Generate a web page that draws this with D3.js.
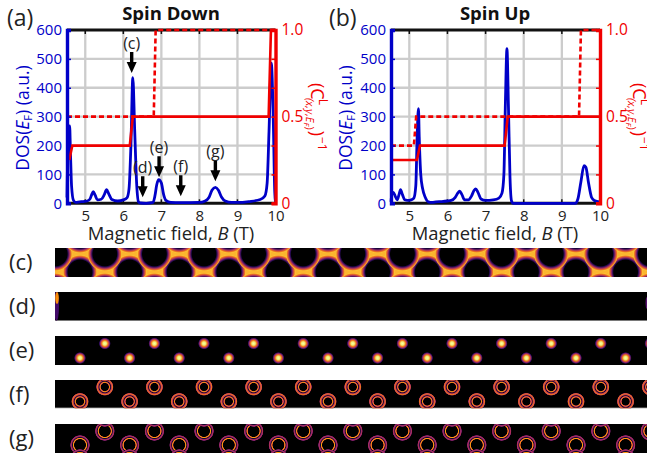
<!DOCTYPE html>
<html>
<head>
<meta charset="utf-8">
<script src="https://cdn.jsdelivr.net/npm/d3@7"></script>
<style>
  html, body { margin: 0; padding: 0; background: #fff; overflow: hidden; }
  svg { display: block; }
  text { font-family: "Open Sans", "Noto Sans", sans-serif; }
</style>
</head>
<body>
<svg width="647" height="453"></svg>
<script>
// DOS curves: [B, DOS]
const dosDown = [[4.52,20],[4.54,200],[4.56,268],[4.575,190],[4.59,268],[4.61,180],[4.64,60],[4.69,10],[4.75,3],[4.85,5],[4.95,6],[5.05,8],[5.12,14],[5.17,30],[5.21,40],[5.26,28],[5.32,12],[5.42,14],[5.5,30],[5.56,47],[5.62,32],[5.7,13],[5.85,8],[6.0,12],[6.1,20],[6.15,50],[6.2,200],[6.25,435],[6.3,250],[6.35,70],[6.4,5],[6.45,1],[6.6,0],[6.78,3],[6.83,25],[6.88,65],[6.93,82],[7,70],[7.06,30],[7.12,10],[7.25,3],[7.5,2],[8,3],[8.15,8],[8.25,20],[8.33,45],[8.42,55],[8.5,45],[8.58,22],[8.68,8],[8.85,3],[9,3],[9.3,6],[9.6,13],[9.72,25],[9.78,70],[9.83,250],[9.89,485],[9.94,300],[9.98,40],[10,5]];
const dosUp = [[4.52,5],[4.54,30],[4.58,38],[4.63,25],[4.68,12],[4.73,30],[4.77,47],[4.82,30],[4.88,12],[4.95,10],[5.05,12],[5.12,18],[5.17,60],[5.21,250],[5.24,328],[5.26,230],[5.3,100],[5.35,50],[5.42,20],[5.5,5],[5.6,3],[5.7,5],[5.85,6],[6.0,8],[6.1,10],[6.2,20],[6.27,35],[6.32,42],[6.38,30],[6.45,12],[6.55,12],[6.63,25],[6.7,45],[6.74,50],[6.8,38],[6.88,15],[7.0,10],[7.2,12],[7.35,18],[7.43,35],[7.48,100],[7.52,350],[7.56,535],[7.6,330],[7.64,90],[7.68,8],[7.72,0],[8,0],[9,0],[9.35,0],[9.42,15],[9.5,75],[9.58,130],[9.63,125],[9.7,70],[9.78,20],[9.85,10],[10,5]];

// inverse Chern steps: [B, value]
const solidDown = [[4.58,0.25],[4.66,0.333],[6.17,0.333],[6.25,0.5],[9.82,0.5],[9.88,1],[10,1]];
const dashDown = [[4.52,0.5],[6.8,0.5],[6.85,1],[10,1]];
const solidUp = [[4.52,0.25],[5.2,0.25],[5.28,0.333],[7.5,0.333],[7.58,0.5],[10,0.5]];
const dashUp = [[4.52,0.333],[5.12,0.333],[5.18,0.5],[9.45,0.5],[9.5,1],[10,1]];

// arrows in panel (a): label, B at the tip, DOS at the tip
const arrowLabels = ["(c)", "(d)", "(e)", "(f)", "(g)"];
const arrowB = [6.22, 6.51, 6.94, 7.51, 8.42];
const arrowDos = [451, 21, 90, 24, 76];

const bTicks = [5, 6, 7, 8, 9, 10];
const dosTicks = [0, 100, 200, 300, 400, 500, 600];
const chernTicks = [0, 1/6, 1/3, 0.5, 2/3, 5/6, 1];
const chernLabels = ["0", "", "", "0.5", "", "", "1.0"];

// lattice of the LDOS maps, in half periods along x
const latticeCols = [-3,-2,-1,0,1,2,3,4,5,6,7,8,9,10,11,12,13,14,15,16,17,18,19,20,21,22,23,24];
const mapNames = ["(c)", "(d)", "(e)", "(f)", "(g)"];

const BLUE = "#0000c8", RED = "#f00000", GRID = "#cccccc";
const svg = d3.select("svg");
const defs = svg.append("defs");

function drawPlot(o) {
  const x = d3.scaleLinear().domain([4.52, 10]).range(o.xr);
  const y = d3.scaleLinear().domain([0, 600]).range([203.3, 30]);
  const y2 = d3.scaleLinear().domain([0, 1]).range([203.3, 30]);
  const g = svg.append("g");

  // grid
  g.selectAll(".gx").data(bTicks.slice(0, 5)).enter().append("line")
    .attr("x1", d => x(d)).attr("x2", d => x(d)).attr("y1", 30).attr("y2", 203.3)
    .attr("stroke", GRID).attr("stroke-width", 2.3);
  g.selectAll(".gy").data(dosTicks.slice(1, 6)).enter().append("line")
    .attr("x1", o.xr[0]).attr("x2", o.xr[1]).attr("y1", d => y(d)).attr("y2", d => y(d))
    .attr("stroke", GRID).attr("stroke-width", 2.3);

  // black frame top and bottom with small ticks
  const xAxisB = d3.axisBottom(x).tickValues(bTicks).tickSize(0).tickPadding(7).tickFormat(d3.format("d"));
  const ax = g.append("g").attr("transform", "translate(0,203.3)").call(xAxisB);
  ax.select(".domain").remove();
  ax.selectAll("text").attr("font-size", 15).attr("fill", "#222");
  g.selectAll(".tt").data(bTicks.slice(0, 5)).enter().append("line")
    .attr("x1", d => x(d)).attr("x2", d => x(d)).attr("y1", 30).attr("y2", 34)
    .attr("stroke", "#111").attr("stroke-width", 1.5);
  g.selectAll(".tb").data(bTicks.slice(0, 5)).enter().append("line")
    .attr("x1", d => x(d)).attr("x2", d => x(d)).attr("y1", 203.3).attr("y2", 199.3)
    .attr("stroke", "#111").attr("stroke-width", 1.5);
  g.append("line").attr("x1", o.xr[0]).attr("x2", o.xr[1]).attr("y1", 30).attr("y2", 30)
    .attr("stroke", "#111").attr("stroke-width", 3);
  g.append("line").attr("x1", o.xr[0]).attr("x2", o.xr[1]).attr("y1", 203.3).attr("y2", 203.3)
    .attr("stroke", "#111").attr("stroke-width", 3);

  // curves
  const lineDos = d3.line().x(d => x(d[0])).y(d => y(d[1])).curve(d3.curveMonotoneX);
  const lineStep = d3.line().x(d => x(d[0])).y(d => y2(d[1]));
  g.append("path").attr("d", lineDos(o.dos)).attr("fill", "none")
    .attr("stroke", BLUE).attr("stroke-width", 2.8).attr("stroke-linejoin", "round");
  g.append("path").attr("d", lineStep(o.dash)).attr("fill", "none")
    .attr("stroke", RED).attr("stroke-width", 2.6).attr("stroke-dasharray", "5,3");
  g.append("path").attr("d", lineStep(o.solid)).attr("fill", "none")
    .attr("stroke", RED).attr("stroke-width", 2.6);

  // left axis, blue
  const yAxis = d3.axisLeft(y).tickValues(dosTicks).tickSize(-4).tickPadding(5);
  const al = g.append("g").attr("transform", `translate(${o.xr[0]},0)`).call(yAxis);
  al.select(".domain").attr("stroke", BLUE).attr("stroke-width", 3.4);
  al.selectAll("line").attr("stroke", BLUE).attr("stroke-width", 1.5);
  al.selectAll("text").attr("font-size", 15).attr("fill", BLUE);

  // right axis, red
  const yAxis2 = d3.axisRight(y2).tickValues(chernTicks).tickSize(-4).tickPadding(6)
    .tickFormat((d, i) => chernLabels[i]);
  const ar = g.append("g").attr("transform", `translate(${o.xr[1]},0)`).call(yAxis2);
  ar.select(".domain").attr("stroke", RED).attr("stroke-width", 3.4);
  ar.selectAll("line").attr("stroke", RED).attr("stroke-width", 1.5);
  ar.selectAll("text").attr("font-size", 15.5).attr("fill", RED);

  // title and axis labels
  g.append("text").attr("x", o.titleX).attr("y", 20).attr("text-anchor", "middle")
    .attr("font-size", 18.5).attr("font-weight", 700).attr("fill", "#111").text(o.title);
  svg.append("text").attr("x", o.tagX).attr("y", 26).attr("font-size", 23).attr("fill", "#222").text(o.tag);

  const xl = g.append("text").attr("x", o.titleX).attr("y", 240).attr("text-anchor", "middle")
    .attr("font-size", 18.4).attr("fill", "#222");
  xl.append("tspan").text("Magnetic field, ");
  xl.append("tspan").attr("font-style", "italic").text("B");
  xl.append("tspan").text(" (T)");

  const yl = g.append("text").attr("transform", `translate(${o.ylX},118) rotate(-90)`)
    .attr("text-anchor", "middle").attr("font-size", 17.5).attr("fill", BLUE);
  yl.append("tspan").text("DOS(");
  yl.append("tspan").attr("font-style", "italic").text("E");
  yl.append("tspan").attr("font-size", 11).attr("dy", 3).text("F");
  yl.append("tspan").attr("dy", -3).text(") (a.u.)");

  const rl = g.append("text").attr("transform", `translate(${o.rlX},83) rotate(90)`)
    .attr("font-size", 18).attr("fill", RED);
  rl.append("tspan").text("(C");
  rl.append("tspan").attr("font-size", 12).attr("dy", -8).attr("dx", -1).text("L");
  rl.append("tspan").attr("font-size", 11).attr("font-style", "italic").attr("dy", 13).attr("dx", -7).text("(x,y,E");
  rl.append("tspan").attr("font-size", 8).attr("font-style", "italic").attr("dy", 2).text("F");
  rl.append("tspan").attr("font-size", 11).attr("dy", -2).text(")");
  rl.append("tspan").attr("dy", -5).attr("dx", 1).text(")");
  rl.append("tspan").attr("font-size", 12).attr("dy", -7).attr("dx", 1).text("−1");

  return { x, y };
}

const down = drawPlot({ xr: [67, 275.5], dos: dosDown, solid: solidDown, dash: dashDown,
  title: "Spin Down", titleX: 171, tag: "(a)", tagX: 7, ylX: 29, rlX: 311 });
drawPlot({ xr: [391, 600], dos: dosUp, solid: solidUp, dash: dashUp,
  title: "Spin Up", titleX: 495, tag: "(b)", tagX: 329, ylX: 352, rlX: 633 });

// arrows pointing at the peaks of panel (a)
arrowLabels.forEach((label, i) => {
  const px = down.x(arrowB[i]), py = down.y(arrowDos[i]);
  const a = svg.append("g").attr("transform", `translate(${px},${py})`);
  a.append("path").attr("d", "M-1.7,-21H1.7V-11H5L0,0L-5,-11H-1.7Z").attr("fill", "#000");
  a.append("text").attr("y", -24).attr("text-anchor", "middle")
    .attr("font-size", 16).attr("fill", "#222").text(label);
});

// LDOS maps
const panelY = [[248, 277], [292, 320.7], [336, 365], [380, 408.3], [424, 453]];
const colX = d3.scaleLinear().domain([0, 1]).range([80, 104.8]);
const inferno = d3.interpolateInferno;

function radial(id, stops) {
  const gr = defs.append("radialGradient").attr("id", id);
  stops.forEach(s => gr.append("stop").attr("offset", s[0]).attr("stop-color", s[1]));
}
radial("hole", [[0, "#000"], [0.7, "#000"], [0.76, inferno(0.15)], [0.84, inferno(0.42)], [0.93, inferno(0.68)], [1, inferno(0.88)]]);
radial("dot", [[0, inferno(1)], [0.28, inferno(0.95)], [0.52, inferno(0.7)], [0.74, inferno(0.42)], [0.9, inferno(0.15)], [1, "#000"]]);
radial("ringF", [[0, "#000"], [0.42, "#000"], [0.48, inferno(0.55)], [0.53, inferno(0.78)], [0.58, inferno(0.55)], [0.66, "#100428"], [0.76, inferno(0.5)], [0.87, inferno(0.7)], [0.95, inferno(0.45)], [1, "#000"]]);
radial("ringG", [[0, "#000"], [0.56, "#000"], [0.61, inferno(0.65)], [0.65, inferno(0.8)], [0.69, inferno(0.65)], [0.75, "#100428"], [0.84, inferno(0.4)], [0.9, inferno(0.48)], [0.96, inferno(0.35)], [1, "#000"]]);

const panelG = mapNames.map((name, i) => {
  const [y0, y1] = panelY[i];
  defs.append("clipPath").attr("id", "clip" + i).append("rect")
    .attr("x", 55).attr("y", y0).attr("width", 592).attr("height", y1 - y0);
  svg.append("text").attr("x", 9).attr("y", (y0 + y1) / 2 + 7.5)
    .attr("font-size", 22).attr("fill", "#222").text(name);
  const g = svg.append("g").attr("clip-path", `url(#clip${i})`);
  g.append("rect").attr("x", 55).attr("y", y0).attr("width", 592).attr("height", y1 - y0)
    .attr("fill", i === 0 ? "#fcb52e" : "#000");
  return g;
});

// sites on one map: rows alternate between even and odd columns
function drawSites(g, rows, firstCol, r, fill) {
  rows.forEach((ry, k) => {
    g.selectAll(null).data(latticeCols.filter(c => c >= firstCol && Math.abs(c) % 2 === k % 2)).enter()
      .append("circle").attr("cx", c => colX(c)).attr("cy", ry).attr("r", r).attr("fill", fill);
  });
}

// (c) dark holes in a bright web
drawSites(panelG[0], [272, 254, 236, 290], -3, 17, "url(#hole)");

// (d) only the edges light up
panelG[1].append("ellipse").attr("cx", 56.5).attr("cy", 306).attr("rx", 2.5).attr("ry", 15).attr("fill", inferno(0.2));
panelG[1].append("ellipse").attr("cx", 57).attr("cy", 298).attr("rx", 1.8).attr("ry", 6).attr("fill", inferno(0.75));
panelG[1].append("ellipse").attr("cx", 647).attr("cy", 303).attr("rx", 1.5).attr("ry", 6).attr("fill", inferno(0.25));

// (e) bright dots
drawSites(panelG[2], [358, 343.5, 329, 372.5], 0, 6, "url(#dot)");
// (f) double rings
panelG[3].append("rect").attr("x", 55).attr("y", 407.5).attr("width", 592).attr("height", 1).attr("fill", "#888");
drawSites(panelG[3], [401.5, 387, 416, 372.5], 0, 8.8, "url(#ringF)");
// (g) wider rings
drawSites(panelG[4], [445, 431, 459, 417], 0, 10, "url(#ringG)");
</script>
</body>
</html>
